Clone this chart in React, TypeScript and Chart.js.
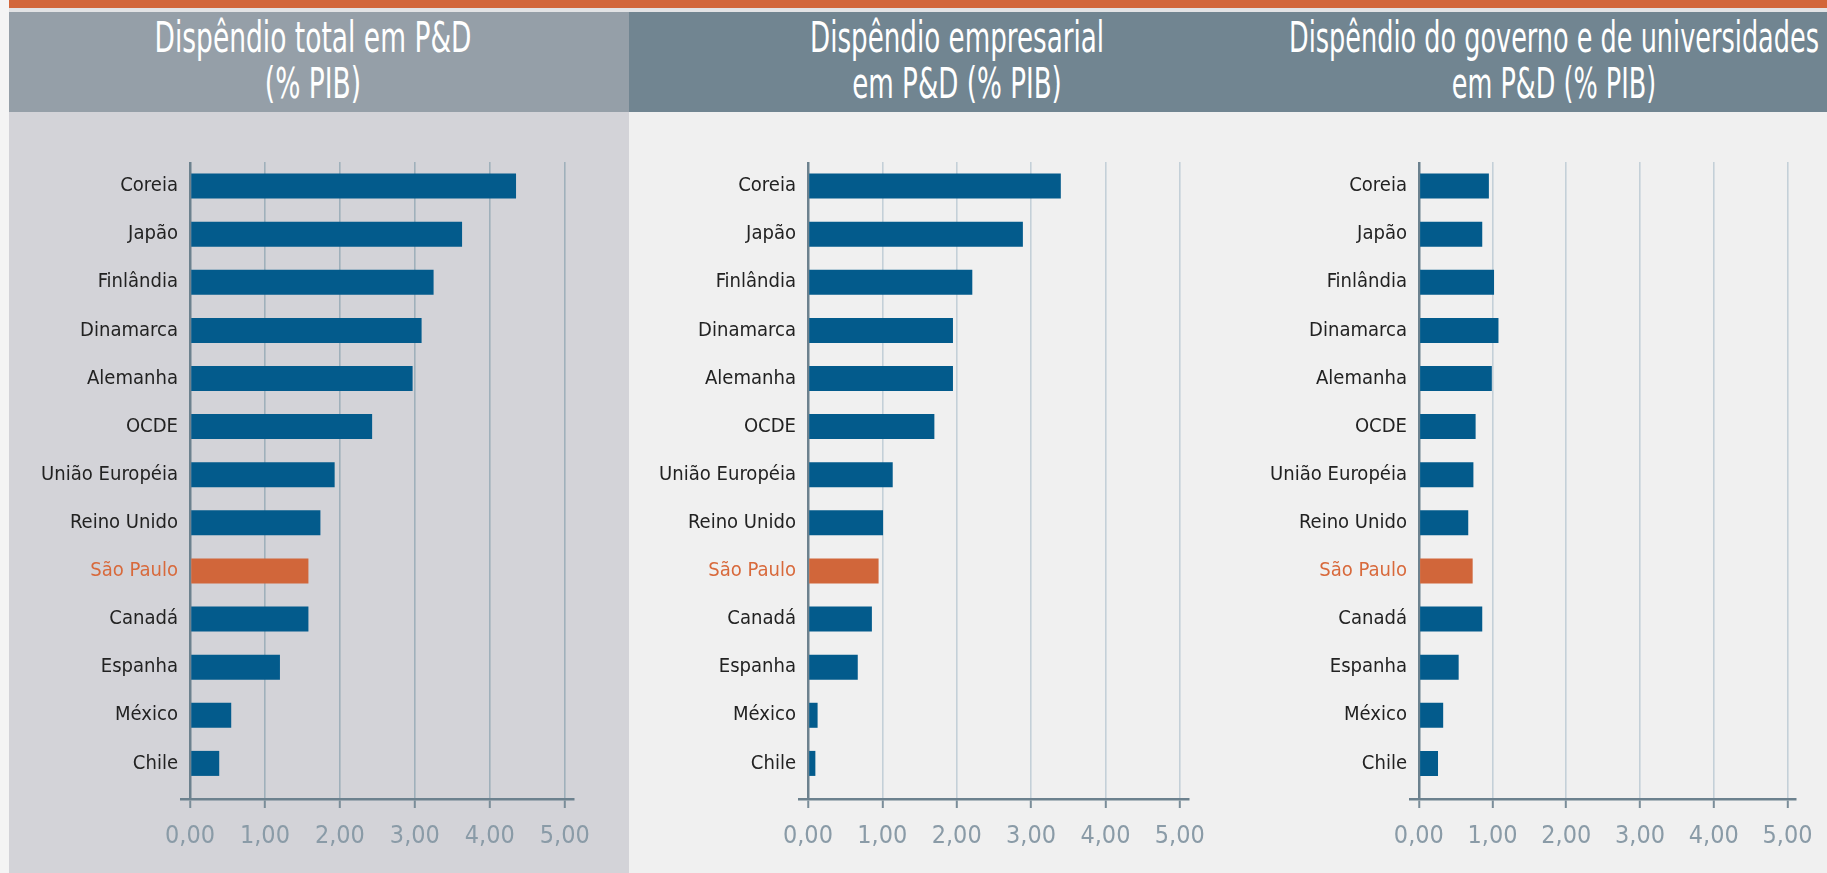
import React, { useEffect, useRef, useMemo } from 'react';
import { Chart, registerables } from 'chart.js';

Chart.register(...registerables);

// ---------- data ----------
const categories = [
  'Coreia',
  'Japão',
  'Finlândia',
  'Dinamarca',
  'Alemanha',
  'OCDE',
  'União Européia',
  'Reino Unido',
  'São Paulo',
  'Canadá',
  'Espanha',
  'México',
  'Chile',
];
const totalRD = [4.35, 3.63, 3.25, 3.09, 2.97, 2.43, 1.93, 1.74, 1.58, 1.58, 1.2, 0.55, 0.39];
const businessRD = [3.4, 2.89, 2.21, 1.95, 1.95, 1.7, 1.14, 1.01, 0.95, 0.86, 0.67, 0.13, 0.1];
const govUnivRD = [0.95, 0.86, 1.02, 1.08, 0.99, 0.77, 0.74, 0.67, 0.73, 0.86, 0.54, 0.33, 0.26];
const xTickValues = [0, 1, 2, 3, 4, 5];
const highlight = 'São Paulo';
const titleTotal = ['Dispêndio total em P&D', '(% PIB)'];
const titleBusiness = ['Dispêndio empresarial', 'em P&D (% PIB)'];
const titleGov = ['Dispêndio do governo e de universidades', 'em P&D (% PIB)'];

// ---------- styles ----------
const FONT_FAMILY = "'Liberation Sans Narrow', 'DejaVu Sans Condensed', 'Liberation Sans', sans-serif";
const BLUE = '#035b8c';
const ORANGE = '#d1663a';
const ORANGE_TEXT = '#d8693b';
const LABEL = '#222222';
const AXIS = '#6c818e';
const TICKMARK = '#7a8d99';
const TICK_LABEL = '#8a9ba7';

function measure(text: string, size: number) {
  const c = document.createElement('canvas').getContext('2d') as CanvasRenderingContext2D;
  c.font = `${size}px ${FONT_FAMILY}`;
  return c.measureText(text).width;
}

function fitSize(text: string, target: number) {
  return (100 * target) / measure(text, 100);
}

type PanelProps = {
  values: number[];
  left: number;
  width: number;
  yAxisWidth: number;
  rightPad: number;
  gridColor: string;
};

function BarPanel({ values, left, width, yAxisWidth, rightPad, gridColor }: PanelProps) {
  const ref = useRef<HTMLCanvasElement | null>(null);
  useEffect(() => {
    const labelSize = fitSize('União Européia', 137);
    const tickSize = fitSize('0,00', 50);
    const chart = new Chart(ref.current as HTMLCanvasElement, {
      type: 'bar',
      data: {
        datasets: [
          {
            data: categories.map((_, i) => ({ x: values[i], y: i })) as any,
            backgroundColor: categories.map((c) => (c === highlight ? ORANGE : BLUE)),
            barPercentage: 0.52,
            categoryPercentage: 1,
            borderWidth: 0,
          },
        ],
      },
      options: {
        indexAxis: 'y',
        responsive: false,
        animation: false,
        layout: { padding: { top: 50, right: rightPad, bottom: 0, left: 0 } },
        plugins: {
          legend: { display: false },
          tooltip: { enabled: false },
          title: { display: false },
        },
        scales: {
          x: {
            type: 'linear',
            min: -0.12,
            max: 5.11,
            afterBuildTicks: (s: any) => {
              s.ticks = xTickValues.map((v) => ({ value: v }));
            },
            afterFit: (s: any) => {
              s.height = 74;
            },
            grid: {
              color: (ctx: any) => (ctx.tick && ctx.tick.value === 0 ? AXIS : gridColor),
              lineWidth: (ctx: any) => (ctx.tick && ctx.tick.value === 0 ? 2.5 : 1.6),
              tickLength: 9,
              tickColor: TICKMARK,
              tickWidth: 2,
              drawTicks: true,
            },
            border: { display: true, color: AXIS, width: 2.5 },
            ticks: {
              autoSkip: false,
              maxRotation: 0,
              padding: 14,
              color: TICK_LABEL,
              font: { family: FONT_FAMILY, size: tickSize },
              callback: (v: any) => Number(v).toFixed(2).replace('.', ','),
            },
          },
          y: {
            type: 'linear',
            reverse: true,
            offset: false,
            min: -0.5,
            max: 12.74,
            afterBuildTicks: (s: any) => {
              s.ticks = categories.map((_, i) => ({ value: i }));
            },
            afterFit: (s: any) => {
              s.width = yAxisWidth;
            },
            grid: { display: false, drawTicks: false },
            border: { display: false },
            ticks: {
              autoSkip: false,
              padding: 3,
              color: (ctx: any) => (categories[ctx.tick.value] === highlight ? ORANGE_TEXT : LABEL),
              font: { family: FONT_FAMILY, size: labelSize },
              callback: (v: any) => categories[v] ?? '',
            },
          },
        },
      },
    });
    return () => chart.destroy();
  }, []);
  return (
    <canvas
      ref={ref}
      width={width}
      height={761}
      style={{ position: 'absolute', left, top: 112, width, height: 761 }}
    />
  );
}

function Title({ lines, centerX, target }: { lines: string[]; centerX: number; target: number }) {
  const scale = useMemo(() => target / measure(lines[0], 42), []);
  return (
    <div
      style={{
        position: 'absolute',
        left: centerX - 400,
        width: 800,
        top: 15,
        textAlign: 'center',
        color: '#ffffff',
        fontFamily: FONT_FAMILY,
        fontSize: 42,
        lineHeight: '46px',
        whiteSpace: 'nowrap',
        transform: `scaleX(${scale})`,
        transformOrigin: 'center',
      }}
    >
      <div>{lines[0]}</div>
      <div>{lines[1]}</div>
    </div>
  );
}

export default function App() {
  return (
    <div
      style={{
        position: 'fixed',
        left: 0,
        top: 0,
        width: 1827,
        height: 873,
        background: '#f4f4f4',
        overflow: 'hidden',
      }}
    >
      <div style={{ position: 'absolute', left: 9, top: 0, width: 1818, height: 8, background: '#d2663a' }} />
      <div style={{ position: 'absolute', left: 9, top: 8, width: 1818, height: 4, background: '#e2e3e5' }} />
      <div style={{ position: 'absolute', left: 9, top: 12, width: 620, height: 100, background: '#959fa8' }} />
      <div style={{ position: 'absolute', left: 629, top: 12, width: 1198, height: 100, background: '#718591' }} />
      <div style={{ position: 'absolute', left: 9, top: 112, width: 620, height: 761, background: '#d3d3d8' }} />
      <div style={{ position: 'absolute', left: 629, top: 112, width: 1198, height: 761, background: '#f0f0f0' }} />
      <Title lines={titleTotal} centerX={313} target={317} />
      <Title lines={titleBusiness} centerX={957} target={294} />
      <Title lines={titleGov} centerX={1554} target={530} />
      <BarPanel values={totalRD} left={9} width={620} yAxisWidth={172} rightPad={56} gridColor="#9fb0bb" />
      <BarPanel values={businessRD} left={629} width={611} yAxisWidth={170} rightPad={52} gridColor="#c4d0d8" />
      <BarPanel values={govUnivRD} left={1240} width={587} yAxisWidth={170} rightPad={26} gridColor="#c4d0d8" />
    </div>
  );
}
